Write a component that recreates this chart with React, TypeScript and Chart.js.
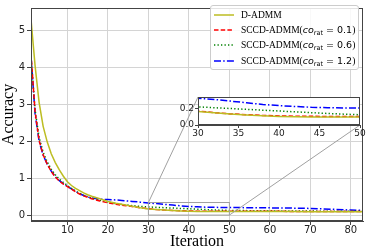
import React, { useEffect, useRef } from "react";
import { Chart, registerables } from "chart.js";

Chart.register(...registerables);

// ---------- data ----------
const iterations = [1, 2, 3, 4, 5, 6, 7, 8, 9, 10, 11, 12, 13, 14, 15, 16, 18, 20, 22, 24, 26, 28, 30, 32, 34, 36, 38, 40, 42, 44, 46, 48, 50, 55, 60, 65, 70, 75, 80, 83];

const dAdmm = [5.3, 4.05, 3.05, 2.4, 1.98, 1.66, 1.42, 1.22, 1.05, 0.9, 0.8, 0.72, 0.66, 0.6, 0.55, 0.51, 0.44, 0.37, 0.32, 0.28, 0.24, 0.2, 0.165, 0.15, 0.135, 0.122, 0.112, 0.104, 0.1, 0.098, 0.097, 0.096, 0.096, 0.095, 0.094, 0.094, 0.093, 0.093, 0.092, 0.092];

const sccd01 = [4.35, 2.8, 2.02, 1.63, 1.38, 1.18, 1.03, 0.92, 0.84, 0.77, 0.7, 0.63, 0.57, 0.52, 0.48, 0.44, 0.38, 0.33, 0.29, 0.26, 0.23, 0.2, 0.17, 0.15, 0.135, 0.125, 0.116, 0.11, 0.107, 0.105, 0.104, 0.103, 0.103, 0.102, 0.101, 0.1, 0.1, 0.1, 0.1, 0.1];

const sccd06 = [4.3, 2.85, 2.1, 1.7, 1.44, 1.24, 1.09, 0.97, 0.88, 0.8, 0.72, 0.65, 0.59, 0.54, 0.5, 0.46, 0.4, 0.35, 0.31, 0.28, 0.255, 0.235, 0.22, 0.21, 0.2, 0.19, 0.18, 0.17, 0.16, 0.15, 0.14, 0.132, 0.125, 0.12, 0.115, 0.11, 0.108, 0.105, 0.103, 0.102];

const sccd12 = [4.3, 2.75, 2.0, 1.62, 1.38, 1.19, 1.04, 0.93, 0.85, 0.78, 0.71, 0.64, 0.58, 0.53, 0.49, 0.46, 0.43, 0.42, 0.41, 0.39, 0.37, 0.35, 0.325, 0.31, 0.29, 0.27, 0.25, 0.235, 0.225, 0.215, 0.21, 0.207, 0.205, 0.2, 0.195, 0.19, 0.18, 0.16, 0.135, 0.125];

const seriesNames = ["D-ADMM", "SCCD-ADMM", "SCCD-ADMM", "SCCD-ADMM"];
const coRatValues = [null, 0.1, 0.6, 1.2];

const xTicks = [10, 20, 30, 40, 50, 60, 70, 80];
const yTicks = [0, 1, 2, 3, 4, 5];
const insetXTicks = [30, 35, 40, 45, 50];
const insetYTicks = [0, 0.2];

const xRange = [1, 83];
const yRange = [-0.16, 5.6];
const insetXRange = [30, 50];
const insetYRange = [0, 0.34];

// ---------- styles ----------
const colors = ["#bcbd22", "#ff0000", "#008000", "#0000ff"];
const dashes = [[], [4.5, 2.2], [1.3, 2.2], [7, 2.2, 1.5, 2.2]];
const tickFont = { family: "DejaVu Sans", size: 10 };
const insetTickFont = { family: "DejaVu Sans", size: 9 };
const spineColor = "#444";

function makeDatasets() {
  const all = [dAdmm, sccd01, sccd06, sccd12];
  return all.map((vals, i) => ({
    label: seriesNames[i] + (coRatValues[i] != null ? `(co_rat = ${coRatValues[i]})` : ""),
    data: iterations.map((x, k) => ({ x, y: vals[k] })),
    borderColor: colors[i],
    backgroundColor: colors[i],
    borderWidth: 1.5,
    borderDash: dashes[i],
    pointRadius: 0,
    tension: 0,
    fill: false,
  }));
}

const frame = (color: string) => ({
  id: "frame",
  afterDraw(chart: any) {
    const { left, right, top, bottom } = chart.chartArea;
    const ctx = chart.ctx;
    ctx.save();
    ctx.strokeStyle = color;
    ctx.lineWidth = 1;
    ctx.strokeRect(Math.round(left) + 0.5, Math.round(top) + 0.5, Math.round(right - left) - 1, Math.round(bottom - top) - 1);
    ctx.restore();
  },
});

export default function App() {
  const mainRef = useRef<HTMLCanvasElement>(null);
  const insetRef = useRef<HTMLCanvasElement>(null);
  const insetLeft = 164;
  const insetTop = 88;

  useEffect(() => {
    const inset = new Chart(insetRef.current!, {
      type: "line",
      data: { datasets: makeDatasets() as any },
      options: {
        animation: false,
        responsive: false,
        events: [],
        layout: { padding: { top: 9, right: 6, left: 0, bottom: 0 } },
        plugins: { legend: { display: false }, tooltip: { enabled: false } },
        scales: {
          x: {
            type: "linear",
            min: insetXRange[0],
            max: insetXRange[1],
            afterBuildTicks: (s: any) => { s.ticks = insetXTicks.map((v) => ({ value: v })); },
            afterFit: (s: any) => { s.height = 15; },
            grid: { drawOnChartArea: false, drawTicks: true, tickLength: 3, tickColor: spineColor },
            border: { display: true, color: spineColor, width: 1 },
            ticks: { font: insetTickFont, color: "#222", padding: 0, maxRotation: 0, autoSkip: false, callback: (v: any) => String(v) },
          },
          y: {
            type: "linear",
            min: insetYRange[0],
            max: insetYRange[1],
            afterBuildTicks: (s: any) => { s.ticks = insetYTicks.map((v) => ({ value: v })); },
            afterFit: (s: any) => { s.width = 34; },
            grid: { drawOnChartArea: false, drawTicks: true, tickLength: 3, tickColor: spineColor },
            border: { display: true, color: spineColor, width: 1 },
            ticks: { font: insetTickFont, color: "#222", padding: 1, autoSkip: false, callback: (v: any) => Number(v).toFixed(1) },
          },
        },
      },
      plugins: [
        {
          id: "insetBg",
          beforeDraw(chart: any) {
            const { left, right, top, bottom } = chart.chartArea;
            chart.ctx.save();
            chart.ctx.fillStyle = "#ffffff";
            chart.ctx.fillRect(left, top, right - left, bottom - top);
            chart.ctx.restore();
          },
        },
        frame(spineColor),
      ],
    });

    const connector = {
      id: "connector",
      afterDatasetsDraw(chart: any) {
        const xs = chart.scales.x;
        const ys = chart.scales.y;
        const x0 = xs.getPixelForValue(insetXRange[0]);
        const x1 = xs.getPixelForValue(insetXRange[1]);
        const y0 = ys.getPixelForValue(insetYRange[0]);
        const y1 = ys.getPixelForValue(insetYRange[1]);
        const ia = inset.chartArea;
        const ctx = chart.ctx;
        ctx.save();
        ctx.strokeStyle = "#a0a0a0";
        ctx.lineWidth = 1;
        ctx.strokeRect(x0, y1, x1 - x0, y0 - y1);
        ctx.beginPath();
        ctx.moveTo(x0, y1);
        ctx.lineTo(insetLeft + ia.left, insetTop + ia.top);
        ctx.moveTo(x1, y0);
        ctx.lineTo(insetLeft + ia.right, insetTop + ia.bottom);
        ctx.stroke();
        ctx.restore();
      },
    };

    const main = new Chart(mainRef.current!, {
      type: "line",
      data: { datasets: makeDatasets() as any },
      options: {
        animation: false,
        responsive: false,
        events: [],
        layout: { padding: { top: 1, right: 3, left: 0, bottom: 0 } },
        plugins: { legend: { display: false }, tooltip: { enabled: false } },
        scales: {
          x: {
            type: "linear",
            min: xRange[0],
            max: xRange[1],
            afterBuildTicks: (s: any) => { s.ticks = xTicks.map((v) => ({ value: v })); },
            afterFit: (s: any) => { s.height = 28; },
            grid: { color: "#d4d4d4", lineWidth: 1, tickLength: 4, tickColor: spineColor },
            border: { display: true, color: spineColor, width: 1 },
            ticks: { font: tickFont, color: "#222", padding: -1, maxRotation: 0, autoSkip: false, callback: (v: any) => String(v) },
            title: { display: true, text: "Iteration", color: "#000", font: { family: "Liberation Serif", size: 16, lineHeight: 1 }, padding: { top: 0, bottom: -1 } },
          },
          y: {
            type: "linear",
            min: yRange[0],
            max: yRange[1],
            afterBuildTicks: (s: any) => { s.ticks = yTicks.map((v) => ({ value: v })); },
            afterFit: (s: any) => { s.width = 31; },
            grid: { color: "#d4d4d4", lineWidth: 1, tickLength: 4, tickColor: spineColor },
            border: { display: true, color: spineColor, width: 1 },
            ticks: { font: tickFont, color: "#222", padding: 2, autoSkip: false, callback: (v: any) => String(v) },
            title: { display: true, text: "Accuracy", color: "#000", font: { family: "Liberation Serif", size: 16, lineHeight: 1 }, padding: { top: 1, bottom: 0 } },
          },
        },
      },
      plugins: [connector, frame(spineColor)],
    });

    return () => {
      main.destroy();
      inset.destroy();
    };
  }, []);

  const rowTops = [1, 16, 31, 47];
  const serif = "'Liberation Serif', 'Times New Roman', serif";
  const sans = "'DejaVu Sans', sans-serif";

  return (
    <div style={{ position: "fixed", left: 0, top: 0, width: 366, height: 249, overflow: "hidden", background: "#fff" }}>
      <canvas ref={mainRef} width={366} height={249} style={{ position: "absolute", left: 0, top: 0 }} />
      <canvas ref={insetRef} width={202} height={52} style={{ position: "absolute", left: insetLeft, top: insetTop }} />
      <div
        style={{
          position: "absolute",
          left: 210,
          top: 5,
          width: 147,
          height: 63,
          border: "1px solid #cccccc",
          borderRadius: 3,
          background: "rgba(255,255,255,0.85)",
        }}
      >
        {seriesNames.map((name, i) => (
          <div
            key={i}
            style={{ position: "absolute", left: 0, top: rowTops[i], height: 15, display: "flex", alignItems: "center", whiteSpace: "nowrap" }}
          >
            <svg width={30} height={8} style={{ display: "block" }}>
              <line x1={3} y1={4} x2={23} y2={4} stroke={colors[i]} strokeWidth={1.5} strokeDasharray={dashes[i].length ? dashes[i].join(" ") : undefined} />
            </svg>
            <span style={{ fontFamily: serif, fontSize: 9.5, color: "#000" }}>
              {name}
              {coRatValues[i] != null && (
                <>
                  (
                  <span style={{ fontFamily: sans, fontStyle: "italic", fontSize: 9.5 }}>co</span>
                  <span style={{ fontFamily: sans, fontSize: 6.5, position: "relative", top: 2 }}>rat</span>
                  <span style={{ fontFamily: sans, fontSize: 9.5 }}>{` = ${coRatValues[i]}`}</span>)
                </>
              )}
            </span>
          </div>
        ))}
      </div>
    </div>
  );
}
